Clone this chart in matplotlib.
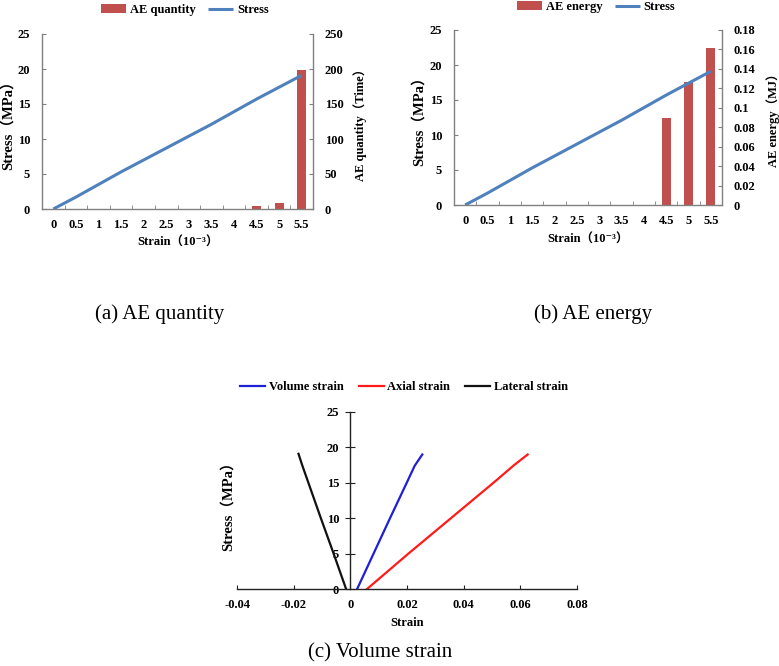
import numpy as np
import matplotlib
matplotlib.use("Agg")
import matplotlib.pyplot as plt

# ---------------- data ----------------
strain_labels = ['0', '0.5', '1', '1.5', '2', '2.5', '3', '3.5', '4', '4.5', '5', '5.5']
stress_mpa = [0, 1.7, 3.5, 5.3, 7.0, 8.7, 10.4, 12.1, 13.9, 15.7, 17.4, 19.1]
ae_quantity = [0, 0, 0, 0, 0, 0, 0, 0, 0, 5, 9, 199]
ae_energy = [0, 0, 0, 0, 0, 0, 0, 0, 0, 0.089, 0.127, 0.162]

# panel (c): stress levels and strains for each curve
vol_stress = [0, 5, 10, 15, 17.4, 19.0]
vol_strain = [0.0024, 0.0082, 0.0140, 0.0199, 0.0227, 0.0254]
axial_stress = [0, 5, 10, 15, 17.5, 19.0]
axial_strain = [0.0059, 0.0205, 0.0355, 0.0505, 0.0578, 0.0626]
lat_stress = [0, 5, 10, 15, 17.5, 19.1]
lat_strain = [-0.0015, -0.0059, -0.0104, -0.0148, -0.0170, -0.0183]

c_xticks = [-0.04, -0.02, 0, 0.02, 0.04, 0.06, 0.08]
c_xticklabels = ['-0.04', '-0.02', '0', '0.02', '0.04', '0.06', '0.08']

# ---------------- style ----------------
plt.rcParams['font.family'] = ['Liberation Serif', 'Noto Sans CJK SC', 'DejaVu Serif']
plt.rcParams['font.weight'] = 'bold'
plt.rcParams['axes.labelweight'] = 'bold'
plt.rcParams['font.size'] = 9

BAR_C = '#C0504D'
LINE_C = '#4F81BD'
GRAY = '#808080'
STRESS_LABEL_SIZE = 10.5

W, H = 779, 666
fig = plt.figure(figsize=(W / 100, H / 100), dpi=100)


def fig_rect(l, t, r, b):
    return [l / W, 1 - b / H, (r - l) / W, (b - t) / H]


def dual_panel(rect, bars, ymax2, step2, bar_label, right_label, leg_xy,
               xlab_y, ylab_x, rlab_x):
    ax = fig.add_axes(rect)
    ax2 = ax.twinx()
    x = np.arange(len(strain_labels))
    bc = ax2.bar(x, bars, width=0.4, color=BAR_C, label=bar_label)
    ln, = ax.plot(x, stress_mpa, color=LINE_C, lw=2.2, label='Stress',
                  solid_capstyle='butt')
    ax.set_zorder(ax2.get_zorder() + 1)
    ax.patch.set_visible(False)

    ax.set_xlim(-0.5, len(strain_labels) - 0.5)
    ax.set_ylim(0, 25)
    ax.set_yticks(np.arange(0, 26, 5))
    ax2.set_ylim(0, ymax2)
    t2 = np.round(np.arange(0, ymax2 + step2 / 2, step2), 4)
    ax2.set_yticks(t2)
    ax2.set_yticklabels([f'{v:g}' for v in t2])

    ax.set_xticks(x)
    ax.set_xticklabels(strain_labels)
    ax.set_xticks(x[:-1] + 0.5, minor=True)
    ax.tick_params(axis='x', which='major', length=0, pad=7)
    ax.tick_params(axis='x', which='minor', direction='in', length=3,
                   color=GRAY)
    ax.tick_params(axis='y', direction='in', length=3, pad=8.5, color=GRAY)
    ax2.tick_params(axis='y', direction='in', length=3, pad=8.5, color=GRAY)

    for s in ('top', 'right'):
        ax.spines[s].set_visible(False)
    for s in ('top', 'left', 'bottom'):
        ax2.spines[s].set_visible(False)
    for a in (ax, ax2):
        for s in a.spines.values():
            s.set_color(GRAY)
            s.set_linewidth(1.0)

    ax.set_xlabel('Strain（10⁻³）', va='center', fontweight='bold')
    ax.xaxis.set_label_coords(0.5, xlab_y)
    ax.set_ylabel('Stress（MPa）', va='center', fontweight='bold',
                  fontsize=STRESS_LABEL_SIZE)
    ax.yaxis.set_label_coords(ylab_x, 0.5)
    ax2.set_ylabel(right_label, va='center', fontweight='bold')
    ax2.yaxis.set_label_coords(rlab_x, 0.5)

    ax.legend(handles=[bc, ln], labels=[bar_label, 'Stress'], ncol=2,
              loc='center', bbox_to_anchor=(leg_xy[0] / W, 1 - leg_xy[1] / H),
              bbox_transform=fig.transFigure, frameon=False,
              handlelength=2.0, handletextpad=0.3, columnspacing=1.0,
              fontsize=9)
    return ax, ax2


dual_panel(fig_rect(42, 34, 313, 209), ae_quantity, 250, 50,
           'AE quantity', 'AE quantity（Time）', (185, 10),
           -0.194, -0.125, 1.173)
dual_panel(fig_rect(454, 30, 722, 205), ae_energy, 0.18, 0.02,
           'AE energy', 'AE energy（MJ）', (596, 7),
           -0.2, -0.13, 1.19)

# ---------------- panel (c) ----------------
axc = fig.add_axes(fig_rect(237, 412, 577, 589))
l1, = axc.plot(vol_strain, vol_stress, color='#1F1FD8', lw=1.6, label='Volume strain')
l2, = axc.plot(axial_strain, axial_stress, color='#FF1A1A', lw=1.6, label='Axial strain')
l3, = axc.plot(lat_strain, lat_stress, color='#111111', lw=1.6, label='Lateral strain')
axc.set_xlim(-0.04, 0.08)
axc.set_ylim(0, 25)
axc.set_xticks(c_xticks)
axc.set_xticklabels(c_xticklabels)
axc.set_yticks(np.arange(0, 26, 5))
axc.spines['left'].set_position(('data', 0))
axc.spines['top'].set_visible(False)
axc.spines['right'].set_visible(False)
for s in ('left', 'bottom'):
    axc.spines[s].set_color('#222222')
    axc.spines[s].set_linewidth(1.0)
axc.tick_params(axis='y', direction='inout', length=7, pad=4.5, color='#222222')
axc.tick_params(axis='x', direction='in', length=3, pad=7.5, color='#222222')
axc.set_xlabel('Strain', va='center', fontweight='bold')
axc.xaxis.set_label_coords(0.5, -0.19)
axc.set_ylabel('Stress（MPa）', va='center', fontweight='bold',
               fontsize=STRESS_LABEL_SIZE)
axc.yaxis.set_label_coords(-0.026, 0.486)
axc.legend(handles=[l1, l2, l3], ncol=3, loc='center',
           bbox_to_anchor=(404 / W, 1 - 387 / H), bbox_transform=fig.transFigure,
           frameon=False, handlelength=2.0, handletextpad=0.3,
           columnspacing=1.2, fontsize=9)

# ---------------- captions ----------------
fig.text(160 / W, 1 - 314 / H, '(a) AE quantity', ha='center', va='center',
         fontsize=15, fontweight='normal')
fig.text(593 / W, 1 - 314 / H, '(b) AE energy', ha='center', va='center',
         fontsize=15, fontweight='normal')
fig.text(380 / W, 1 - 653 / H, '(c) Volume strain', ha='center', va='center',
         fontsize=15, fontweight='normal')

fig.savefig('out.png', dpi=100)
